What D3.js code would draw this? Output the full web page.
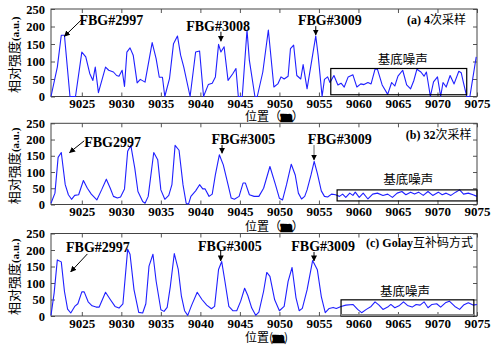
<!DOCTYPE html>
<html><head><meta charset="utf-8">
<script src="https://cdn.jsdelivr.net/npm/d3@7"></script>
<style>body{margin:0;background:#fff}</style>
</head><body><svg id="chart" width="492" height="346"></svg>
<script>
// Axis ticks
const xTicks = [9025, 9030, 9035, 9040, 9045, 9050, 9055, 9060, 9065, 9070, 9075];
const yTicks = [0, 50, 100, 150, 200, 250];

// (a) 4 averages: position (m) and relative intensity (a.u.)
const posA = [9021.1,9021.9,9022.4,9022.8,9023.5,9024.2,9025.0,9025.5,9026.0,9026.4,9026.7,9027.1,9028.0,9028.4,9029.0,9029.4,9029.7,9030.1,9030.4,9030.7,9031.1,9031.5,9032.0,9032.4,9033.0,9033.9,9034.4,9034.8,9035.2,9035.5,9036.1,9036.6,9037.1,9037.5,9037.9,9038.7,9039.4,9039.9,9040.4,9041.0,9041.5,9041.9,9042.3,9042.6,9043.0,9043.5,9044.1,9044.5,9044.8,9045.3,9045.9,9046.2,9046.9,9047.2,9047.9,9048.6,9049.3,9049.8,9050.2,9050.6,9051.1,9051.4,9051.8,9052.2,9052.7,9053.0,9053.5,9054.2,9054.6,9054.9,9055.4,9055.7,9056.1,9056.4,9056.9,9057.4,9057.8,9058.2,9058.7,9059.3,9059.8,9060.3,9060.7,9061.2,9061.6,9062.1,9062.4,9063.0,9063.7,9064.2,9064.6,9065.0,9065.6,9066.1,9066.6,9067.0,9067.4,9067.9,9068.3,9068.6,9069.1,9069.5,9070.0,9070.4,9070.7,9071.1,9071.6,9072.1,9072.7,9073.0,9073.3,9073.7,9074.1,9074.9];
const valA = [0,84,175,175,0,0,127,113,66,46,84,11,84,75,70,60,58,75,29,127,139,118,39,49,41,154,108,55,55,0,52,151,173,118,84,0,127,130,0,34,38,56,149,127,142,46,65,80,0,0,190,103,0,0,70,190,27,36,56,50,58,137,147,60,50,91,22,118,173,118,0,49,56,40,60,33,38,27,56,62,27,36,34,40,36,78,78,33,6,40,30,58,75,33,22,45,78,70,58,70,0,42,56,0,40,27,60,36,72,68,38,0,0,113];

// (b) 32 averages
const posB = [9021.1,9021.6,9022.0,9022.4,9022.9,9023.3,9023.7,9024.1,9024.6,9025.2,9025.7,9026.2,9026.9,9027.5,9028.1,9028.6,9029.0,9029.5,9029.9,9030.4,9030.8,9031.2,9031.7,9032.1,9032.7,9033.0,9033.4,9034.1,9034.6,9035.0,9035.5,9036.0,9036.4,9036.8,9037.3,9037.8,9038.2,9038.5,9038.8,9039.4,9039.9,9040.3,9040.6,9041.1,9041.5,9041.9,9042.4,9042.9,9043.5,9043.9,9044.3,9044.9,9045.4,9045.7,9046.2,9046.8,9047.4,9048.0,9048.8,9049.5,9050.0,9050.4,9050.9,9051.5,9052.0,9052.4,9052.8,9053.2,9053.5,9054.0,9054.4,9054.8,9055.3,9055.7,9056.1,9056.6,9057.1,9057.6,9058.0,9058.4,9058.9,9059.3,9059.6,9060.1,9060.6,9061.2,9061.8,9062.4,9063.1,9063.7,9064.3,9064.9,9065.5,9066.0,9066.6,9067.1,9067.6,9068.2,9068.8,9069.4,9070.1,9070.6,9071.1,9071.7,9072.3,9072.8,9073.3,9073.9,9074.5,9075.0];
const valB = [4,35,145,160,61,30,16,28,30,74,50,32,14,45,78,50,25,20,23,48,164,182,112,40,9,4,25,160,138,45,16,28,61,182,167,61,4,1,25,42,61,48,48,25,32,92,153,122,61,20,16,25,66,66,30,25,25,50,117,61,19,14,61,124,91,35,17,25,45,91,133,96,42,25,23,32,30,25,32,22,35,28,38,22,35,17,32,35,28,32,22,35,40,30,38,32,38,28,40,28,38,30,35,28,38,45,32,35,30,25];

// (c) Golay complementary codes
const posC = [9021.1,9021.5,9021.9,9022.4,9022.8,9023.2,9023.6,9024.1,9024.5,9025.0,9025.3,9025.8,9026.3,9026.8,9027.2,9028.0,9028.6,9029.2,9029.7,9030.2,9030.8,9031.1,9031.6,9032.2,9032.7,9033.1,9033.5,9034.0,9034.4,9035.0,9035.4,9035.8,9036.2,9036.7,9037.2,9037.6,9038.0,9038.4,9038.9,9039.6,9040.2,9040.8,9041.4,9041.8,9042.3,9042.7,9043.1,9043.6,9044.1,9044.6,9045.1,9045.6,9046.0,9046.5,9047.0,9047.4,9048.0,9048.4,9048.8,9049.4,9050.0,9050.6,9051.1,9051.6,9052.1,9052.5,9052.9,9053.5,9054.2,9054.8,9055.3,9055.8,9056.3,9056.8,9057.2,9057.8,9058.4,9059.3,9059.9,9060.4,9061.0,9061.6,9062.1,9062.6,9063.1,9063.7,9064.1,9064.6,9065.2,9065.7,9066.2,9066.8,9067.3,9067.8,9068.3,9068.8,9069.3,9069.9,9070.4,9071.0,9071.5,9072.2,9072.8,9073.3,9073.9,9074.5,9075.0];
const valC = [2,70,170,164,75,21,9,29,37,73,73,43,31,27,27,72,50,29,24,37,202,187,80,11,9,37,151,187,106,19,14,26,90,189,141,60,16,2,33,72,50,33,22,29,141,165,106,29,16,16,45,84,62,24,2,12,75,132,120,49,16,29,105,147,55,16,23,79,168,140,59,10,23,26,23,29,33,35,20,10,20,29,43,33,20,27,35,25,32,43,32,27,35,33,43,25,35,37,27,40,45,29,20,33,40,33,35];

// Panel text
const titles = [["(a) 4", "次采样"], ["(b) 32", "次采样"], ["(c) Golay", "互补码方式"]];
const noiseLabel = "基底噪声";
const peakNames = [["FBG#2997", "FBG#3008", "FBG#3009"], ["FBG2997", "FBG#3005", "FBG#3009"], ["FBG#2997", "FBG#3005", "FBG#3009"]];

const svg = d3.select("#chart");
const left = 51, right = 477;
const serif = "'Liberation Serif','DejaVu Serif',serif";
const cjk = "'Noto Sans CJK SC','Noto Sans',sans-serif";
const lineColor = "#1f1fff";

svg.append("defs").append("marker")
  .attr("id", "ah").attr("viewBox", "0 0 10 10").attr("refX", 9).attr("refY", 5)
  .attr("markerWidth", 6).attr("markerHeight", 6).attr("orient", "auto-start-reverse")
  .append("path").attr("d", "M0,0 L10,5 L0,10 z").attr("fill", "#000");

// Per-panel layout: plot rows, annotation anchors in data units
const panels = [
  { pos: posA, val: valA, top: 9, bottom: 96.5, xlabY: 120.5, full: true,
    box: [9056.5, 9073.7, 5, 80], noise: [9065.6, 93],
    title: [9073.6, 207],
    notes: [
      { t: [9024.7, 204], a: [[9024.9, 218], [9022.8, 172]] },
      { t: [9038.2, 187], a: [[9042.6, 185], [9042.6, 158]] },
      { t: [9052.35, 204], a: [[9054.6, 201], [9054.6, 176]] } ] },
  { pos: posB, val: valB, top: 123.3, bottom: 204.5, xlabY: 231, full: true,
    box: [9057.3, 9075, 11, 45], noise: [9066.3, 63],
    title: [9074.3, 202],
    notes: [
      { t: [9025.3, 177], a: [[9025.3, 196], [9023.45, 160]] },
      { t: [9041.4, 186], a: [[9042.74, 183], [9042.74, 158]] },
      { t: [9053.6, 186], a: [[9054.38, 183], [9054.38, 137]], gray: true } ] },
  { pos: posC, val: valC, top: 233.5, bottom: 316, xlabY: 342, full: false,
    box: [9057.8, 9074.6, 0, 49], noise: [9065.9, 61],
    title: [9074.5, 209],
    notes: [
      { t: [9023.0, 194], a: [[9025.7, 188], [9023.6, 134]] },
      { t: [9039.7, 197], a: [[9042.57, 197], [9042.57, 167]] },
      { t: [9051.5, 197], a: [[9054.38, 194], [9054.38, 167]] } ] }
];

panels.forEach((p, i) => {
  const x = d3.scaleLinear().domain([9021.1, 9075]).range([left, right]);
  const y = d3.scaleLinear().domain([0, 250]).range([p.bottom, p.top]);
  const g = svg.append("g");

  // axes with inward ticks on all four sides
  const ax = g.append("g").attr("transform", `translate(0,${p.bottom})`)
    .call(d3.axisBottom(x).tickValues(xTicks).tickFormat(d3.format("d")).tickSize(-4).tickPadding(2.5));
  ax.selectAll("text").attr("font-family", serif).attr("font-weight", "bold").attr("font-size", 13).attr("fill", "#000");
  const ay = g.append("g").attr("transform", `translate(${left},0)`)
    .call(d3.axisLeft(y).tickValues(yTicks).tickSize(-4).tickPadding(6));
  ay.selectAll("text").attr("font-family", serif).attr("font-weight", "bold").attr("font-size", 12.5).attr("fill", "#000");
  g.append("g").attr("transform", `translate(${right},0)`)
    .call(d3.axisRight(y).tickValues(yTicks).tickSize(-4).tickFormat(""));
  g.append("g").attr("transform", `translate(0,${p.top})`)
    .call(d3.axisTop(x).tickValues(xTicks).tickSize(-4).tickFormat(""));
  g.selectAll(".domain").remove();
  g.selectAll(".tick line").attr("stroke", "#555");

  g.append("rect").attr("x", left).attr("y", p.top).attr("width", right - left).attr("height", p.bottom - p.top)
    .attr("fill", "none").attr("stroke", "#444").attr("stroke-width", 1);

  // trace
  const pts = p.pos.map((d, k) => [d, p.val[k]]);
  g.append("path").datum(pts)
    .attr("d", d3.line().x(d => x(d[0])).y(d => y(d[1])))
    .attr("fill", "none").attr("stroke", lineColor).attr("stroke-width", 1.1).attr("stroke-linejoin", "round");

  // noise floor box
  const [b0, b1, v0, v1] = p.box;
  g.append("rect").attr("x", x(b0)).attr("y", y(v1)).attr("width", x(b1) - x(b0)).attr("height", y(v0) - y(v1))
    .attr("fill", "none").attr("stroke", "#000").attr("stroke-width", 1.2);
  if (i === 2) {
    g.append("line").attr("x1", x(b0)).attr("x2", x(b1)).attr("y1", y(0) - 1).attr("y2", y(0) - 1)
      .attr("stroke", "#888").attr("stroke-width", 2);
  }
  g.append("text").attr("x", x(p.noise[0])).attr("y", y(p.noise[1])).attr("text-anchor", "middle")
    .attr("font-family", cjk).attr("font-size", 12.5).attr("fill", "#000").text(noiseLabel);

  // panel title
  const tt = g.append("text").attr("x", x(p.title[0])).attr("y", y(p.title[1])).attr("text-anchor", "end")
    .attr("font-size", 12).attr("fill", "#000");
  tt.append("tspan").attr("font-family", serif).attr("font-weight", "bold").text(titles[i][0]);
  tt.append("tspan").attr("font-family", cjk).text(titles[i][1]);

  // peak annotations
  p.notes.forEach((n, k) => {
    g.append("text").attr("x", x(n.t[0])).attr("y", y(n.t[1]))
      .attr("font-family", serif).attr("font-weight", "bold").attr("font-size", 14).attr("fill", "#000")
      .text(peakNames[i][k]);
    g.append("line")
      .attr("x1", x(n.a[0][0])).attr("y1", y(n.a[0][1]))
      .attr("x2", x(n.a[1][0])).attr("y2", y(n.a[1][1]))
      .attr("stroke", n.gray ? "#666" : "#000").attr("stroke-width", 1)
      .attr("marker-end", "url(#ah)");
  });

  // y-axis title
  const cy = (p.top + p.bottom) / 2 + 2;
  const yt = g.append("text").attr("transform", `translate(19,${cy}) rotate(-90)`).attr("text-anchor", "middle").attr("fill", "#000");
  yt.append("tspan").attr("font-family", cjk).attr("font-size", 13).text("相对强度");
  yt.append("tspan").attr("font-family", serif).attr("font-weight", "bold").attr("font-size", 11).text("(a.u.)");

  // x-axis title
  const xt = g.append("text").attr("x", 245).attr("y", p.xlabY).attr("fill", "#000").attr("font-size", 12);
  xt.append("tspan").attr("font-family", cjk).text(p.full ? "位置（" : "位置(");
  xt.append("tspan").attr("font-family", serif).attr("font-weight", "bold").attr("font-size", 13)
    .attr("stroke", "#000").attr("stroke-width", 2.4).text("m");
  xt.append("tspan").attr("font-family", cjk).text(p.full ? "）" : ")");
});
</script>
</body></html>
